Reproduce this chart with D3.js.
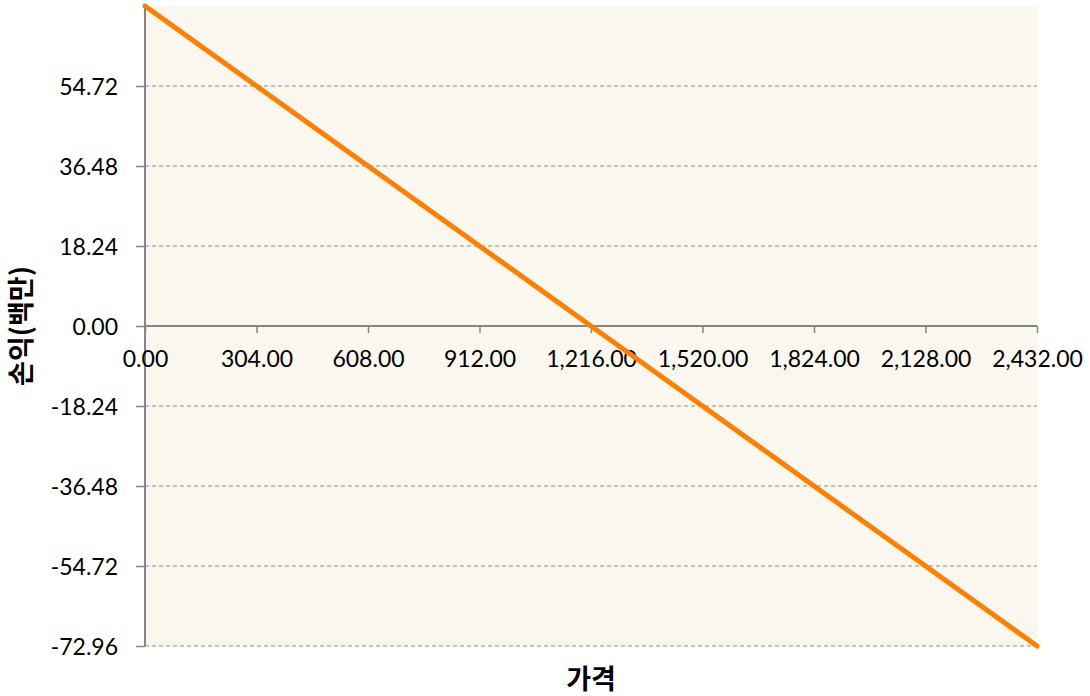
<!DOCTYPE html>
<html><head><meta charset="utf-8">
<script src="https://cdn.jsdelivr.net/npm/d3@7"></script>
<style>body{margin:0;background:#fff}svg{display:block}</style>
</head><body>
<script>
const prices = [0, 304, 608, 912, 1216, 1520, 1824, 2128, 2432];
const pnl = [72.96, 54.72, 36.48, 18.24, 0, -18.24, -36.48, -54.72, -72.96];
const xTicks = [0, 304, 608, 912, 1216, 1520, 1824, 2128, 2432];
const yTicks = [-72.96, -54.72, -36.48, -18.24, 0, 18.24, 36.48, 54.72];
const xTitle = "가격";
const yTitle = "손익(백만)";

const W = 1090, H = 696;
const m = {left: 145, right: 53, top: 6, bottom: 50};
const svg = d3.select("body").append("svg").attr("width", W).attr("height", H);
const x = d3.scaleLinear().domain([0, 2432]).range([m.left, W - m.right]);
const y = d3.scaleLinear().domain([-72.96, 72.96]).range([H - m.bottom, m.top]);
const font = "Lato, 'Open Sans', sans-serif";
const axisColor = "#868686";
const fmtY = d => d3.format(".2f")(d).replace("\u2212", "-");
const fmtX = d => d3.format(",.2f")(d).replace("\u2212", "-");

svg.append("rect").attr("x", m.left).attr("y", m.top)
  .attr("width", x(2432) - m.left).attr("height", y(-72.96) - m.top)
  .attr("fill", "#FAF7EE");

// gridlines
svg.append("g").selectAll("line").data(yTicks.filter(d => d !== 0)).join("line")
  .attr("x1", m.left).attr("x2", x(2432))
  .attr("y1", d => y(d)).attr("y2", d => y(d))
  .attr("stroke", "#8c8c8c").attr("stroke-width", 1.2).attr("stroke-dasharray", "4,3");

// y axis
const yAxis = d3.axisLeft(y).tickValues(yTicks).tickFormat(fmtY).tickSize(9).tickPadding(18);
const gy = svg.append("g").attr("transform", `translate(${m.left},0)`).call(yAxis);
gy.select(".domain").attr("stroke", axisColor).attr("stroke-width", 2).attr("d", `M0,${m.top}V${y(-72.96)}`);
gy.selectAll(".tick line").attr("stroke", axisColor).attr("stroke-width", 1.5);
gy.selectAll(".tick text").attr("font-family", font).attr("font-size", 23).attr("fill", "#000").attr("dy", "0.35em");

// x axis at y=0
const xAxis = d3.axisBottom(x).tickValues(xTicks).tickFormat(fmtX).tickSize(7).tickPadding(18);
const gx = svg.append("g").attr("transform", `translate(0,${y(0)})`).call(xAxis);
gx.select(".domain").attr("stroke", axisColor).attr("stroke-width", 2).attr("d", `M${m.left},0H${x(2432)}`);
gx.selectAll(".tick line").attr("stroke", axisColor).attr("stroke-width", 1.5);
gx.selectAll(".tick text").attr("font-family", font).attr("font-size", 23).attr("fill", "#000");

// line
const line = d3.line().x((d, i) => x(prices[i])).y(d => y(d));
svg.append("path").datum(pnl).attr("d", line)
  .attr("fill", "none").attr("stroke", "#FF8000").attr("stroke-width", 5).attr("stroke-linecap", "round");

// titles
svg.append("text").attr("x", x(1216)).attr("y", 680).attr("dy", "0.35em").attr("text-anchor", "middle")
  .attr("font-family", "'Noto Sans CJK KR', sans-serif").attr("font-weight", "bold").attr("font-size", 27)
  .text(xTitle);
svg.append("text").attr("transform", `translate(22,${y(0)}) rotate(-90)`).attr("dy", "0.35em").attr("text-anchor", "middle")
  .attr("font-family", "'Noto Sans CJK KR', sans-serif").attr("font-weight", "bold").attr("font-size", 27)
  .text(yTitle);
</script>
</body></html>
